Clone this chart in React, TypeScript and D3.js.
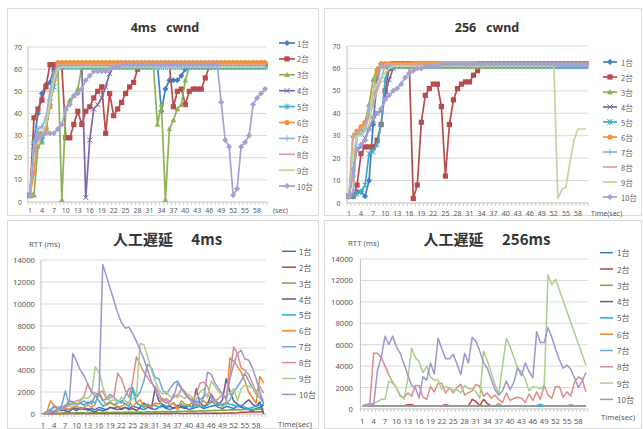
import React from 'react';
import * as d3 from 'd3';

const seconds = [1,2,3,4,5,6,7,8,9,10,11,12,13,14,15,16,17,18,19,20,21,22,23,24,25,26,27,28,29,30,31,32,33,34,35,36,37,38,39,40,41,42,43,44,45,46,47,48,49,50,51,52,53,54,55,56,57,58,59,60];
const xTickLabels = ['1','4','7','10','13','16','19','22','25','28','31','34','37','40','43','46','49','52','55','58'];
const seriesNames = ['1台','2台','3台','4台','5台','6台','7台','8台','9台','10台'];
const cwndTicks = [0,10,20,30,40,50,60,70];
const rttTicks = [0,2000,4000,6000,8000,10000,12000,14000];

// ---- 4ms cwnd ----
const c4_1 = [3,27,40,49,53,54,60,62,62,62, 62,62,62,62,62,62,62,62,62,62, 62,62,62,62,62,62,62,62,62,62, 62,62,62,41,51,55,55,55,57,60, 62,62,62,62,62,62,62,62,62,62, 62,62,62,62,62,62,62,62,62,62];
const c4_2 = [3,38,42,46,52,62,62,62,61,29, 29,35,41,35,41,43,47,50,52,31, 49,39,42,45,49,52,54,60,62,62, 62,62,62,62,62,62,43,50,51,44, 50,51,51,51,56,61,62,62,62,62, 62,62,62,62,62,62,62,62,62,62];
const c4_3 = [3,3,25,27,33,44,57,61,1,42, 46,48,51,61,61,61,61,61,61,61, 61,61,61,61,61,61,61,61,61,61, 61,61,35,44,1,33,37,42,44,55, 61,61,61,61,61,61,61,61,61,61, 61,61,61,61,61,61,61,61,61,61];
const c4_4 = [3,25,29,30,32,45,60,62,62,62, 62,62,62,62,2,28,42,44,47,52, 58,62,62,62,62,62,62,62,62,62, 62,62,62,62,62,62,62,62,62,62, 62,62,62,62,62,62,62,62,62,62, 62,62,62,62,62,62,62,62,62,62];
const c4_5 = [3,27,31,28,33,45,52,61,61,61, 61,61,61,61,61,61,61,61,61,61, 61,61,61,61,61,61,61,61,61,61, 61,61,61,61,61,61,61,61,61,61, 61,61,61,61,61,61,61,61,61,61, 61,61,61,61,61,61,61,61,61,61];
const c4_6 = [3,13,30,31,33,43,55,63,63,63, 63,63,63,63,63,63,63,63,63,63, 63,63,63,63,63,63,63,63,63,63, 63,63,63,63,63,63,63,63,63,63, 63,63,63,63,63,63,63,63,63,63, 63,63,63,63,63,63,63,63,63,63];
const c4_7 = [3,27,33,34,38,50,58,61,61,61, 61,61,61,61,61,61,61,61,61,61, 61,61,61,61,61,61,61,61,61,61, 61,61,61,61,61,61,61,61,61,61, 61,61,61,61,61,61,61,61,61,61, 61,61,61,61,61,61,61,61,61,61];
const c4_8 = [3,25,27,30,35,44,57,62,62,62, 62,62,62,62,62,62,62,62,62,62, 62,62,62,62,62,62,62,62,62,62, 62,62,62,62,62,62,62,62,62,62, 62,62,62,62,62,62,62,62,62,62, 62,62,62,62,62,62,62,62,62,62];
const c4_9 = [3,23,28,30,35,45,55,60,61,61, 61,61,61,61,61,61,61,61,61,61, 61,61,61,61,61,61,61,61,61,61, 61,61,61,61,61,61,61,61,61,61, 61,61,61,61,61,61,61,61,61,61, 61,61,61,61,61,61,61,61,61,61];
const c4_10 = [3,23,29,30,31,31,31,33,35,42, 44,48,49,51,55,57,59,59,59,59, 60,61,61,62,62,62,62,62,62,62, 62,62,62,62,62,62,62,62,62,62, 62,62,62,62,62,62,62,62,45,28, 25,3,6,25,27,30,44,47,49,51];

// ---- 256 cwnd ----
const c256_1 = [3,3,5,5,3,10,35,55,62,62, 62,62,62,62,62,62,62,62,62,62, 62,62,62,62,62,62,62,62,62,62, 62,62,62,62,62,62,62,62,62,62, 62,62,62,62,62,62,62,62,62,62, 62,62,62,62,62,62,62,62,62,62];
const c256_2 = [3,3,8,22,25,25,25,28,35,50, 60,62,62,62,62,62,2,8,36,48, 51,53,53,43,12,35,46,51,53,54, 54,57,59,62,62,62,62,62,62,62, 62,62,62,62,62,62,62,62,62,62, 62,62,62,62,62,62,62,62,62,62];
const c256_3 = [3,30,31,33,36,44,55,60,61,61, 61,61,61,61,61,61,61,61,61,61, 61,61,61,61,61,61,61,61,61,61, 61,61,61,61,61,61,61,61,61,61, 61,61,61,61,61,61,61,61,61,61, 61,61,61,61,61,61,61,61,61,61];
const c256_4 = [3,15,24,25,29,33,37,40,41,48, 55,60,62,62,62,62,62,62,62,62, 62,62,62,62,62,62,62,62,62,62, 62,62,62,62,62,62,62,62,62,62, 62,62,62,62,62,62,62,62,62,62, 62,62,62,62,62,62,62,62,62,62];
const c256_5 = [3,3,4,5,8,22,23,26,35,55, 61,61,61,61,61,61,61,61,61,61, 61,61,61,61,61,61,61,61,61,61, 61,61,61,61,61,61,61,61,61,61, 61,61,61,61,61,61,61,61,61,61, 61,61,61,61,61,61,61,61,61,61];
const c256_6 = [3,12,32,34,36,39,49,59,62,62, 62,62,62,62,62,62,62,62,62,62, 62,62,62,62,62,62,62,62,62,62, 62,62,62,62,62,62,62,62,62,62, 62,62,62,62,62,62,62,62,62,62, 62,62,62,62,62,62,62,62,62,62];
const c256_7 = [3,5,30,31,33,43,44,53,61,61, 61,61,61,61,61,61,61,61,61,61, 61,61,61,61,61,61,61,61,61,61, 61,61,61,61,61,61,61,61,61,61, 61,61,61,61,61,61,61,61,61,61, 61,61,61,61,61,61,61,61,61,61];
const c256_8 = [3,31,32,33,35,38,44,50,55,62, 62,62,62,62,62,62,62,62,62,62, 62,62,62,62,62,62,62,62,62,62, 62,62,62,62,62,62,62,62,62,62, 62,62,62,62,62,62,62,62,62,62, 62,62,62,62,62,62,62,62,62,62];
const c256_9 = [3,22,30,30,32,35,50,53,56,58, 60,61,61,61,61,61,61,61,61,61, 61,61,61,61,61,61,61,61,61,61, 61,61,61,61,61,61,61,61,61,61, 61,61,61,61,61,61,61,61,61,61, 61,61,2,6,7,18,28,33,33,33];
const c256_10 = [3,15,24,26,28,33,38,40,42,46, 48,50,51,53,56,58,59,60,60,61, 61,61,61,62,62,62,62,62,62,62, 62,62,62,62,62,62,62,62,62,62, 62,62,62,62,62,62,62,62,62,62, 62,62,62,62,62,62,62,62,62,62];

// ---- RTT 4ms ----
const r4_1 = [0,100,300,200,400,300,500,400,600,500, 400,600,300,500,400,600,500,400,600,500, 700,400,600,500,700,600,500,400,600,500, 400,600,700,500,400,600,500,700,600,400, 500,600,700,500,600,700,800,600,500,700, 600,500,700,600,500,400,300,500,600,800];
const r4_2 = [0,20,30,20,40,30,20,50,40,30, 40,50,30,40,60,50,40,30,50,40, 60,50,40,50,60,40,50,60,50,40, 60,50,40,60,50,70,60,50,40,60, 70,60,50,80,60,70,80,60,70,90, 80,100,120,150,170,190,200,180,200,210];
const r4_3 = [0,50,80,90,60,90,120,100,80,110, 130,100,120,150,130,110,140,160,130,150, 170,140,160,180,150,170,190,160,200,180, 210,190,220,200,230,210,250,230,260,240, 280,260,300,280,320,300,340,320,360,340, 380,360,400,380,420,400,430,420,450,430];
const r4_4 = [0,100,200,200,300,400,300,200,500,300, 600,400,500,300,200,400,300,400,600,500, 400,500,600,400,500,300,600,1000,700,500, 2300,1200,800,600,700,500,800,600,500,800, 600,2300,1000,700,900,1800,1200,800,1300,3200, 2000,1200,900,700,1000,1300,900,700,1100,0];
const r4_5 = [0,200,400,700,500,600,700,1200,1100,900, 1000,800,1100,900,1700,1200,700,900,1100,800, 1000,1200,900,700,2300,1000,800,600,900,700, 800,600,900,700,800,1000,600,900,700,800, 600,900,700,600,800,1200,900,800,900,1000, 900,800,700,800,600,500,600,700,800,900];
const r4_6 = [0,100,1200,800,500,400,500,400,600,700, 500,600,800,600,900,2000,1300,800,1000,900, 600,700,900,1100,700,1000,1300,700,800,600, 1000,900,1400,1200,800,1000,400,1200,900,800, 1100,700,900,1200,900,1000,1300,900,700,1100, 5100,4800,4300,3800,3000,2000,1500,1000,3400,2800];
const r4_7 = [0,200,400,600,600,700,2100,800,1000,800, 1000,1200,900,1200,1000,1800,1200,1400,1800,1500, 1200,1000,1600,2300,2400,1500,2000,3000,4500,4200, 3300,3200,2200,1800,2300,2800,3000,2400,2000,1500, 1200,1000,1300,1600,1800,1400,1200,1000,800,900, 1300,2000,2500,3000,3700,3000,2400,1800,1500,1000];
const r4_8 = [0,100,200,300,400,600,800,900,1000,1200, 1300,1600,2800,2000,1600,1900,2100,1300,1500,1600, 3700,3200,2200,1500,3000,5200,4500,3800,3300,2800, 2500,1900,1200,1400,1100,1800,1500,2300,2000,1500, 1300,1800,2800,2900,2500,1600,1200,1400,1800,1300, 3500,6100,5500,4200,4000,3600,2800,2000,2500,1900];
const r4_9 = [0,100,200,300,300,500,600,700,800,900, 1200,1500,1400,1800,4300,3800,2500,1500,1200,1300, 1000,1500,1200,1000,1400,1600,6400,6300,5200,4000, 3000,2200,1800,2000,1600,1500,1800,1600,1400,1800, 1500,1300,2000,2300,1500,3000,2500,2000,1800,1600, 1900,2300,1200,2300,2600,2500,2400,2000,1800,1200];
const r4_10 = [0,100,200,300,400,500,600,1000,5500,4800, 4000,3500,2700,2000,1900,1800,13600,12500,11400,10300, 9200,8300,7800,7900,7300,6600,5800,5000,4000,3000, 2200,1500,1200,1000,1100,1600,2800,2300,1800,1400, 1000,1200,900,1500,3800,3600,2800,2300,1800,1400, 3200,4500,5500,5800,5000,4900,4200,3200,2000,900];

// ---- RTT 256ms ----
const r256_1 = [250,260,250,250,260,250,250,260,250,250, 260,250,250,260,250,250,260,250,250,260, 250,250,260,250,250,260,250,250,260,250, 250,260,250,250,260,250,250,260,250,250, 260,250,250,260,250,250,260,250,250,260, 250,250,260,250,250,260,250,250,260,250];
const r256_2 = [300,300,300,300,300,300,300,300,300,300, 300,300,400,400,300,300,300,300,300,300, 300,300,400,300,300,300,300,300,300,900, 700,300,900,500,300,300,300,300,300,300, 300,300,300,300,300,300,300,300,300,300, 300,300,300,300,300,300,300,300,300,300];
const r256_3 = [280,280,290,280,280,290,280,280,290,280, 280,290,280,280,290,280,280,290,280,280, 290,280,280,290,280,280,290,280,280,290, 280,280,290,280,280,290,280,280,290,280, 280,290,280,280,290,280,280,290,280,280, 290,280,280,290,280,280,290,280,280,290];
const r256_4 = [270,280,270,270,280,270,270,280,270,270, 280,270,270,280,270,270,280,270,270,280, 270,270,280,270,270,280,270,270,280,270, 270,280,270,270,280,270,270,280,270,270, 280,270,270,280,270,270,280,270,270,280, 270,270,280,270,270,280,270,270,280,270];
const r256_5 = [260,260,270,260,260,270,260,260,270,260, 260,270,260,260,270,260,260,270,260,260, 270,260,260,270,260,260,270,260,260,270, 260,260,270,260,260,270,260,260,270,260, 260,270,260,260,270,260,260,270,260,260, 270,260,260,270,260,260,270,260,260,270];
const r256_6 = [280,290,280,290,280,290,280,290,280,290, 280,290,280,290,280,290,280,290,280,290, 280,290,280,290,280,290,280,290,280,290, 280,290,280,290,280,290,500,290,280,290, 280,290,280,290,280,290,280,400,280,290, 280,290,280,290,280,290,280,290,280,290];
const r256_7 = [300,300,310,300,300,310,300,300,310,300, 300,310,300,300,310,300,300,310,300,300, 310,300,300,310,300,300,310,300,300,310, 300,300,310,300,300,310,300,300,310,300, 300,310,300,300,310,300,300,450,300,300, 310,300,300,310,300,400,300,300,310,300];
const r256_8 = [300,400,500,5200,5200,4800,4000,3200,2500,2000, 1200,1100,1500,1200,2200,2200,1100,900,2100,1600, 2400,2400,1500,2000,1500,2000,2300,1300,1500,1700, 2300,2100,1200,1500,1000,1300,900,600,1500,800, 1000,1100,1000,600,1400,800,1600,900,2200,1300, 1000,2100,2100,1100,1600,1200,2500,3000,2800,1600];
const r256_9 = [300,300,400,500,700,900,900,2600,2400,2000, 1300,900,2800,5700,4800,4400,3400,4000,3000,2700, 2700,1800,2100,1900,1800,1800,1500,2200,1900,1900, 1600,1000,5400,4500,3400,2300,1400,4000,6600,5800, 4800,3800,3500,2800,1700,2100,2000,1900,2200,12500, 11600,12100,11100,10100,9100,8100,7100,6100,5100,4100];
const r256_10 = [300,350,500,400,3600,4800,6800,6000,6800,5800, 5200,4200,3200,2200,2000,1000,3000,2700,4300,3300, 6600,5600,4700,4700,5100,4200,3200,5200,4300,6700, 6300,5400,4300,3800,2800,1800,1300,1700,2600,1800, 2500,3900,3100,4300,3500,2900,7200,6200,6200,7600, 6700,5600,4600,3800,4100,3700,2900,2000,2600,3400];

const topColors = ['#3F7FC3','#B84B4B','#8DB255','#7D66A5','#3FA9C8','#F0913F','#8FB5E0','#DDA19F','#BDD79E','#A4A2D4'];
const bottomColors = ['#2E7DC0','#B9473F','#78A640','#6A5594','#1EB0DD','#EE8A2C','#6EA3DA','#DC8D8A','#A9CF8A','#9D96CF'];
const topMarkers = ['diamond','square','triangle','x','star','circle','plus','none','none','diamond'];

const FONT = '"Noto Sans", "Noto Sans CJK JP", sans-serif';
const CJK = '"Noto Sans CJK JP", "Noto Sans", sans-serif';

function Marker({ type, x, y, color, r }: { type: string; x: number; y: number; color: string; r: number }) {
  if (type === 'none') return null;
  if (type === 'circle') return <circle cx={x} cy={y} r={r} fill={color} />;
  let d = '';
  let filled = true;
  if (type === 'diamond') d = `M0,${-r * 1.15}L${r * 1.15},0L0,${r * 1.15}L${-r * 1.15},0Z`;
  else if (type === 'square') d = `M${-r},${-r}h${2 * r}v${2 * r}h${-2 * r}Z`;
  else if (type === 'triangle') d = `M0,${-r * 1.15}L${r * 1.1},${r * 0.85}L${-r * 1.1},${r * 0.85}Z`;
  else if (type === 'x') { d = `M${-r},${-r}L${r},${r}M${-r},${r}L${r},${-r}`; filled = false; }
  else if (type === 'star') { d = `M${-r},${-r}L${r},${r}M${-r},${r}L${r},${-r}M0,${-r * 1.2}L0,${r * 1.2}`; filled = false; }
  else if (type === 'plus') { d = `M${-r * 1.2},0L${r * 1.2},0M0,${-r * 1.2}L0,${r * 1.2}`; filled = false; }
  return (
    <path
      d={d}
      transform={`translate(${x},${y})`}
      fill={filled ? color : 'none'}
      stroke={filled ? 'none' : color}
      strokeWidth={filled ? 0 : 1}
    />
  );
}

type PanelProps = {
  frame: [number, number, number, number];
  left: number; right: number; yBottom: number; yTop: number; yMax: number;
  ticks: number[];
  series: number[][];
  colors: string[];
  markers: string[] | null;
  lineWidth: number;
  markerR: number;
  tickFont: number;
  yLabelX: number;
  xLabelY: number;
  legendX1: number; legendX2: number; legendTextX: number; legendY0: number; legendStep: number; legendFont: number;
  title: string; titleX: number; titleY: number; titleFont: number; titleFamily: string;
  note: string; noteX: number; noteY: number;
  unit?: string; unitX?: number; unitY?: number;
};

function Panel(p: PanelProps) {
  const x = d3.scaleBand<number>().domain(seconds).range([p.left, p.right]);
  const bw = x.bandwidth();
  const cx = (d: number) => (x(d) as number) + bw / 2;
  const y = d3.scaleLinear().domain([0, p.yMax]).range([p.yBottom, p.yTop]);
  const line = d3.line<number>().x((_, i) => cx(seconds[i])).y((v) => y(v));
  const [fx, fy, fw, fh] = p.frame;
  return (
    <g>
      <rect x={fx} y={fy} width={fw} height={fh} fill="#fff" stroke="#D9D9D9" strokeWidth={1} />
      {p.ticks.map((t) => (
        <g key={t}>
          {t > 0 && <line x1={p.left} x2={p.right} y1={y(t)} y2={y(t)} stroke="#D9D9D9" strokeWidth={1} />}
          <text x={p.yLabelX} y={y(t)} textAnchor="end" dominantBaseline="central" fontSize={p.tickFont} fill="#595959" fontFamily={FONT}>{t}</text>
        </g>
      ))}
      <line x1={p.left} x2={p.left} y1={p.yTop} y2={p.yBottom} stroke="#BFBFBF" strokeWidth={1} />
      <line x1={p.left} x2={p.right} y1={p.yBottom} y2={p.yBottom} stroke="#BFBFBF" strokeWidth={1} />
      {seconds.map((s) => (
        <line key={s} x1={x(s) as number} x2={x(s) as number} y1={p.yBottom} y2={p.yBottom + 3} stroke="#BFBFBF" strokeWidth={0.8} />
      ))}
      <line x1={p.right} x2={p.right} y1={p.yBottom} y2={p.yBottom + 3} stroke="#BFBFBF" strokeWidth={0.8} />
      {xTickLabels.map((l) => (
        <text key={l} x={cx(+l)} y={p.xLabelY} textAnchor="middle" dominantBaseline="central" fontSize={p.tickFont} fill="#595959" fontFamily={FONT}>{l}</text>
      ))}
      {p.series.map((s, i) => (
        <g key={i}>
          <path d={line(s) || ''} fill="none" stroke={p.colors[i]} strokeWidth={p.lineWidth} strokeLinejoin="round" />
          {p.markers && s.map((v, j) => (
            <Marker key={j} type={p.markers![i]} x={cx(seconds[j])} y={y(v)} color={p.colors[i]} r={p.markerR} />
          ))}
        </g>
      ))}
      {seriesNames.map((n, i) => {
        const ly = p.legendY0 + i * p.legendStep;
        return (
          <g key={n}>
            <line x1={p.legendX1} x2={p.legendX2} y1={ly} y2={ly} stroke={p.colors[i]} strokeWidth={p.lineWidth} />
            {p.markers && <Marker type={p.markers[i]} x={(p.legendX1 + p.legendX2) / 2} y={ly} color={p.colors[i]} r={p.markerR} />}
            <text x={p.legendTextX} y={ly} dominantBaseline="central" fontSize={p.legendFont} fill="#595959" fontFamily={CJK}>{n}</text>
          </g>
        );
      })}
      <text x={p.titleX} y={p.titleY} textAnchor="middle" dominantBaseline="central" fontSize={p.titleFont} fontWeight="bold" fill="#333" fontFamily={p.titleFamily} style={{ whiteSpace: 'pre' }}>{p.title}</text>
      <text x={p.noteX} y={p.noteY} dominantBaseline="central" fontSize={p.tickFont} fill="#595959" fontFamily={FONT}>{p.note}</text>
      {p.unit && <text x={p.unitX} y={p.unitY} dominantBaseline="central" fontSize={p.tickFont} fill="#595959" fontFamily={FONT}>{p.unit}</text>}
    </g>
  );
}

export default function App() {
  const top4 = [c4_1, c4_2, c4_3, c4_4, c4_5, c4_6, c4_7, c4_8, c4_9, c4_10];
  const top256 = [c256_1, c256_2, c256_3, c256_4, c256_5, c256_6, c256_7, c256_8, c256_9, c256_10];
  const rtt4 = [r4_1, r4_2, r4_3, r4_4, r4_5, r4_6, r4_7, r4_8, r4_9, r4_10];
  const rtt256 = [r256_1, r256_2, r256_3, r256_4, r256_5, r256_6, r256_7, r256_8, r256_9, r256_10];
  return (
    <svg width={643} height={429} style={{ position: 'absolute', left: 0, top: 0, background: '#fff' }}>
      <rect x={0} y={0} width={643} height={429} fill="#fff" />
      <Panel frame={[7.5, 8.5, 311, 207]} left={28} right={267} yBottom={202} yTop={47} yMax={70} ticks={cwndTicks}
        series={top4} colors={topColors} markers={topMarkers} lineWidth={1.7} markerR={2.6} tickFont={7}
        yLabelX={22} xLabelY={210.5}
        legendX1={279} legendX2={295} legendTextX={297} legendY0={43} legendStep={15.9} legendFont={7.5}
        title={'4ms   cwnd'} titleX={165} titleY={27} titleFont={12.5} titleFamily={FONT}
        note="(sec)" noteX={273} noteY={210} />
      <Panel frame={[324.5, 8.5, 317, 207]} left={347} right={588} yBottom={203} yTop={46} yMax={70} ticks={cwndTicks}
        series={top256} colors={topColors} markers={topMarkers} lineWidth={1.7} markerR={2.6} tickFont={7}
        yLabelX={340.5} xLabelY={213}
        legendX1={603} legendX2={617} legendTextX={621} legendY0={62} legendStep={15} legendFont={7.5}
        title={'256   cwnd'} titleX={487} titleY={27} titleFont={12.5} titleFamily={FONT}
        note="Time(sec)" noteX={591} noteY={213} />
      <Panel frame={[7.5, 220.5, 311, 208]} left={41} right={265.5} yBottom={414} yTop={260} yMax={14000} ticks={rttTicks}
        series={rtt4} colors={bottomColors} markers={null} lineWidth={1.5} markerR={0} tickFont={7.7}
        yLabelX={35} xLabelY={424.5}
        legendX1={282} legendX2={296} legendTextX={299} legendY0={251.3} legendStep={15.9} legendFont={8}
        title={'人工遅延　 4ms'} titleX={167.5} titleY={238.7} titleFont={15} titleFamily={CJK}
        note="Time(sec)" noteX={278} noteY={424}
        unit="RTT (ms)" unitX={29} unitY={244.3} />
      <Panel frame={[324.5, 220.5, 317, 208]} left={360.4} right={587.8} yBottom={409} yTop={259} yMax={14000} ticks={rttTicks}
        series={rtt256} colors={bottomColors} markers={null} lineWidth={1.5} markerR={0} tickFont={7.7}
        yLabelX={353} xLabelY={421.3}
        legendX1={600} legendX2={613} legendTextX={617} legendY0={252.7} legendStep={16.3} legendFont={8}
        title={'人工遅延　 256ms'} titleX={487} titleY={238.7} titleFont={15} titleFamily={CJK}
        note="Time(sec)" noteX={601} noteY={417}
        unit="RTT (ms)" unitX={348} unitY={242.7} />
    </svg>
  );
}
